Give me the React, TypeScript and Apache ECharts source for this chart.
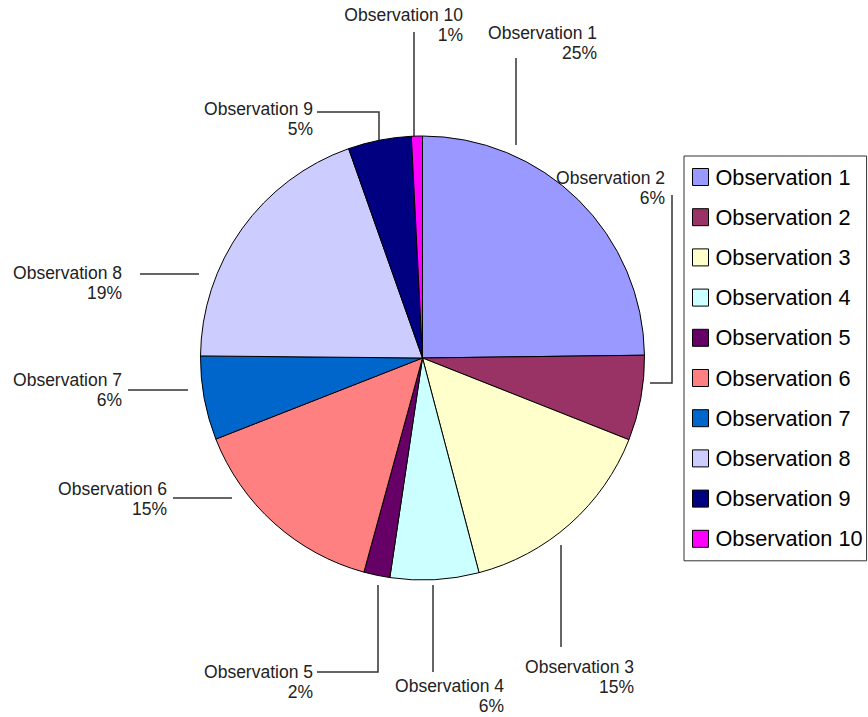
import React, { useEffect, useRef } from "react";
import * as echarts from "echarts";

const categories = [
  "Observation 1",
  "Observation 2",
  "Observation 3",
  "Observation 4",
  "Observation 5",
  "Observation 6",
  "Observation 7",
  "Observation 8",
  "Observation 9",
  "Observation 10",
];
const values = [24.8, 6.2, 14.9, 6.45, 1.9, 14.8, 6.1, 19.45, 4.6, 0.8];
const colors = [
  "#9999FF",
  "#993366",
  "#FFFFCC",
  "#CCFFFF",
  "#660066",
  "#FF8080",
  "#0066CC",
  "#CCCCFF",
  "#000080",
  "#FF00FF",
];

// label layout (right edge x, middle y) and leader lines, as placed in the reference
const labelAnchors: [number, number][] = [
  [597, 43],
  [665, 187.5],
  [634, 677],
  [504, 696],
  [313, 682],
  [167, 499],
  [122, 390],
  [122, 282.5],
  [313, 118.5],
  [463, 25],
];
const leaderLines: [number, number][][] = [
  [[516, 145], [516, 58]],
  [[650, 383], [672, 383], [672, 195]],
  [[561, 545], [561, 647]],
  [[433, 585], [433, 672]],
  [[378, 585], [378, 672], [317, 672]],
  [[232, 498], [173, 498]],
  [[188, 390], [128, 390]],
  [[199, 274], [140, 274]],
  [[379, 142], [379, 112], [317, 112]],
  [[414, 150], [414, 32]],
];

const FONT = "'Liberation Sans', Arial, sans-serif";

export default function App() {
  const ref = useRef<HTMLDivElement>(null);
  useEffect(() => {
    if (!ref.current) return;
    const chart = echarts.init(ref.current, null, { renderer: "svg" });
    chart.setOption({
      animation: false,
      backgroundColor: "#ffffff",
      textStyle: { fontFamily: FONT },
      legend: {
        orient: "vertical",
        left: 684,
        top: 156,
        padding: [10, 4, 11, 8],
        borderColor: "#333",
        borderWidth: 1,
        itemWidth: 16,
        itemHeight: 17,
        itemGap: 18.2,
        icon: "rect",
        selectedMode: false,
        itemStyle: { borderColor: "#000", borderWidth: 1 },
        textStyle: {
          fontFamily: FONT,
          fontSize: 21.7,
          lineHeight: 22,
          color: "#000",
          padding: [0, 0, 0, 2],
        },
        data: categories,
      },
      series: [
        {
          type: "pie",
          center: [422.5, 358],
          radius: 222,
          startAngle: 90,
          clockwise: true,
          avoidLabelOverlap: false,
          itemStyle: { borderColor: "#000", borderWidth: 1 },
          label: {
            show: true,
            position: "outside",
            fontFamily: FONT,
            fontSize: 17.5,
            lineHeight: 20,
            color: "#222",
            align: "right",
            formatter: (p: any) => `${p.name}\n${Math.round(p.percent)}%`,
          },
          labelLine: {
            show: true,
            lineStyle: { color: "#333", width: 1.5 },
          },
          labelLayout: (p: any) => {
            const i = p.dataIndex;
            return {
              x: labelAnchors[i][0],
              y: labelAnchors[i][1],
              align: "right",
              verticalAlign: "middle",
              labelLinePoints: leaderLines[i],
            };
          },
          data: categories.map((c, i) => ({
            name: c,
            value: values[i],
            itemStyle: { color: colors[i] },
          })),
        },
      ],
    });
    return () => chart.dispose();
  }, []);
  return (
    <div
      ref={ref}
      style={{ position: "fixed", left: 0, top: 0, width: 868, height: 717 }}
    />
  );
}
